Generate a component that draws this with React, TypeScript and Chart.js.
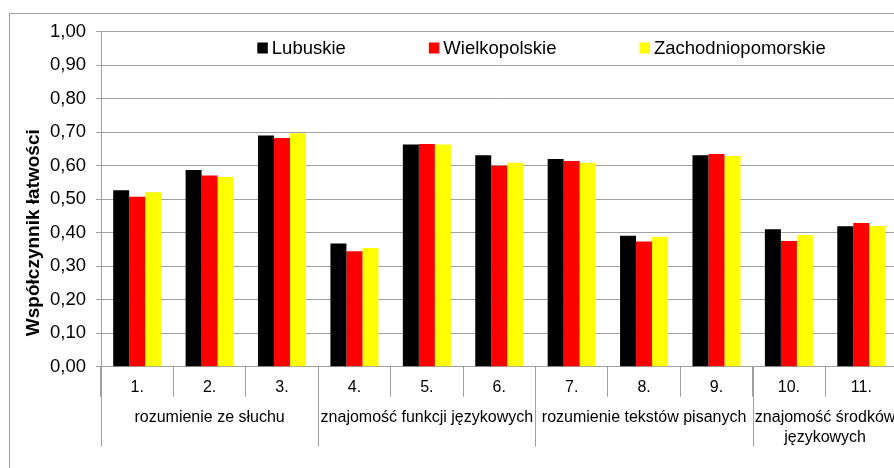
import React, { useEffect, useRef } from 'react';
import { Chart, registerables } from 'chart.js';

Chart.register(...registerables);

const categories = ['1.', '2.', '3.', '4.', '5.', '6.', '7.', '8.', '9.', '10.', '11.'];
const groupLabels = [
  'rozumienie ze słuchu',
  'znajomość funkcji językowych',
  'rozumienie tekstów pisanych',
  'znajomość środków językowych',
];
const groupSizes = [3, 3, 3, 2];
const seriesNames = ['Lubuskie', 'Wielkopolskie', 'Zachodniopomorskie'];
const seriesColors = ['#000000', '#ff0000', '#ffff00'];
const lubuskie = [0.527, 0.587, 0.69, 0.368, 0.663, 0.631, 0.62, 0.391, 0.631, 0.41, 0.419];
const wielkopolskie = [0.507, 0.571, 0.683, 0.345, 0.665, 0.6, 0.614, 0.374, 0.635, 0.375, 0.429];
const zachodniopomorskie = [0.521, 0.566, 0.697, 0.354, 0.663, 0.609, 0.609, 0.388, 0.629, 0.393, 0.42];
const yMin = 0;
const yMax = 1;
const yStep = 0.1;
const yTitle = 'Współczynnik łatwości';

const FONT = '"Liberation Sans", Arial, sans-serif';
const GRID = '#a0a0a0';

function wrapText(ctx: CanvasRenderingContext2D, text: string, maxW: number): string[] {
  if (ctx.measureText(text).width <= maxW) return [text];
  const words = text.split(' ');
  const lines: string[] = [];
  let cur = '';
  for (const w of words) {
    const test = cur ? cur + ' ' + w : w;
    if (ctx.measureText(test).width <= maxW || !cur) cur = test;
    else {
      lines.push(cur);
      cur = w;
    }
  }
  if (cur) lines.push(cur);
  return lines;
}

const extras = {
  id: 'extras',
  beforeDraw(chart: any) {
    const ctx = chart.ctx as CanvasRenderingContext2D;
    ctx.save();
    ctx.strokeStyle = GRID;
    ctx.lineWidth = 1;
    ctx.strokeRect(1.5, 5.5, chart.width + 40, chart.height + 40);
    ctx.restore();
  },
  afterDraw(chart: any) {
    const ctx = chart.ctx as CanvasRenderingContext2D;
    const area = chart.chartArea;
    const xs = chart.scales.x;
    const catW = xs.getPixelForValue(1) - xs.getPixelForValue(0);
    ctx.save();
    ctx.strokeStyle = GRID;
    ctx.lineWidth = 1;
    ctx.font = `16px ${FONT}`;
    ctx.fillStyle = '#000';
    ctx.textAlign = 'center';
    ctx.textBaseline = 'middle';
    let idx = 0;
    for (let g = 0; g <= groupSizes.length; g++) {
      const bx = Math.round(xs.getPixelForValue(idx) - catW / 2) + 0.5;
      ctx.beginPath();
      ctx.moveTo(bx, area.bottom);
      ctx.lineTo(bx, area.bottom + 80);
      ctx.stroke();
      if (g < groupSizes.length) {
        const start = xs.getPixelForValue(idx) - catW / 2;
        const end = xs.getPixelForValue(idx + groupSizes[g] - 1) + catW / 2;
        const lines = wrapText(ctx, groupLabels[g], end - start - 2);
        lines.forEach((ln, i) => {
          ctx.fillText(ln, (start + end) / 2, area.bottom + 51.3 + i * 19.7);
        });
        idx += groupSizes[g];
      }
    }
    ctx.save();
    ctx.translate(25.5, (area.top + area.bottom) / 2 + 33.5);
    ctx.rotate(-Math.PI / 2);
    ctx.font = `bold 19px ${FONT}`;
    ctx.fillText(yTitle, 0, 0);
    ctx.restore();
    ctx.font = `18.5px ${FONT}`;
    ctx.textAlign = 'left';
    let lx = area.left + 156.3;
    const ly = area.top + 16.3;
    chart.data.datasets.forEach((ds: any) => {
      ctx.fillStyle = ds.backgroundColor;
      ctx.fillRect(lx, ly - 5.5, 10.5, 11);
      ctx.fillStyle = '#000';
      ctx.fillText(ds.label, lx + 14.5, ly + 0.5);
      lx += 14.5 + ctx.measureText(ds.label).width + 83;
    });
    ctx.restore();
  },
};

export default function App() {
  const ref = useRef<HTMLCanvasElement>(null);
  useEffect(() => {
    document.documentElement.style.overflow = 'hidden';
    const series = [lubuskie, wielkopolskie, zachodniopomorskie];
    const chart = new Chart(ref.current!, {
      type: 'bar',
      data: {
        labels: categories,
        datasets: series.map((d, i) => ({
          label: seriesNames[i],
          data: d,
          backgroundColor: seriesColors[i],
          borderWidth: 0,
          categoryPercentage: 0.663,
          barPercentage: 1.0,
        })),
      },
      options: {
        responsive: false,
        animation: false,
        layout: { padding: { top: 23.7, right: 40.5, bottom: 0, left: 0 } },
        plugins: { legend: { display: false }, tooltip: { enabled: false } },
        scales: {
          x: {
            grid: { display: true, drawOnChartArea: false, drawTicks: true, tickLength: 30, color: GRID, offset: true },
            border: { display: true, color: GRID },
            ticks: {
              font: { family: FONT, size: 16 },
              color: '#000',
              padding: -19,
              maxRotation: 0,
              minRotation: 0,
              autoSkip: false,
            },
            afterFit(scale: any) {
              scale.height = 101.3;
            },
          },
          y: {
            min: yMin,
            max: yMax,
            grid: { color: GRID, tickLength: 5 },
            border: { display: true, color: GRID },
            ticks: {
              stepSize: yStep,
              font: { family: FONT, size: 18.5 },
              color: '#000',
              padding: 10,
              callback: (v: any) => Number(v).toFixed(2).replace('.', ','),
            },
            afterFit(scale: any) {
              scale.width = 93;
            },
          },
        },
      },
      plugins: [extras],
    });
    return () => chart.destroy();
  }, []);
  return (
    <div style={{ position: 'fixed', left: 8, top: 8, width: 886, height: 460, overflow: 'hidden' }}>
      <canvas ref={ref} width={930} height={460} style={{ display: 'block', width: 930, height: 460 }} />
    </div>
  );
}
